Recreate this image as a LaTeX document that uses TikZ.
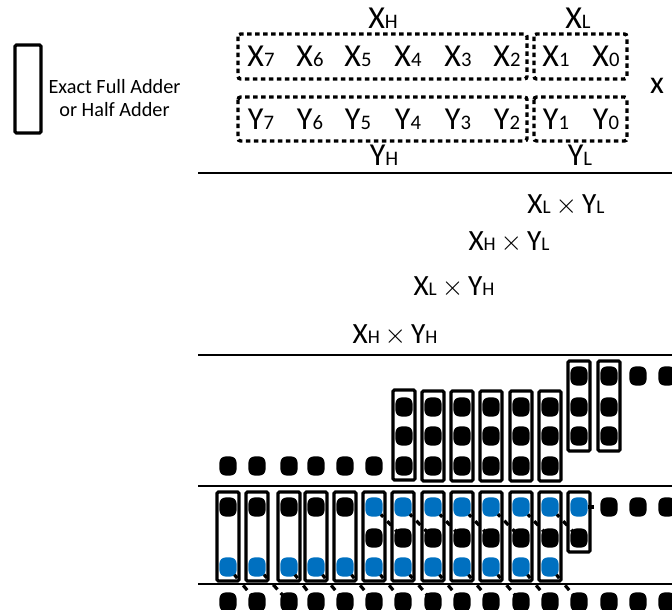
\documentclass[tikz,border=0pt]{standalone}
\usepackage{fontspec}
\setmainfont{Carlito}
\newcommand{\bigtxt}[2]{{\fontsize{24pt}{26pt}\selectfont #1\fontsize{15.5pt}{17pt}\selectfont #2}}
\newcommand{\eqtxt}[4]{{\fontsize{22pt}{24pt}\selectfont #1\fontsize{14.5pt}{16pt}\selectfont #2\fontsize{22pt}{24pt}\selectfont\,$\times$\,#3\fontsize{14.5pt}{16pt}\selectfont #4}}
\tikzset{
  x=0.75pt,y=-0.75pt,
  dotk/.style={rectangle,fill=black,minimum width=12.8pt,minimum height=14.3pt,inner sep=0pt,rounded corners=4.5pt},
  dotb/.style={dotk,fill=dotblue},
  groupbox/.style={draw=black,line width=2.3pt,rounded corners=1pt},
  dashbox/.style={draw=black,line width=2.6pt,dash pattern=on 3.4pt off 2.6pt,rounded corners=2pt},
  rule/.style={draw=black,line width=2.2pt},
  carry/.style={draw=black,line width=2.4pt,dash pattern=on 2.5pt off 4.4pt on 4.4pt off 4.4pt on 6pt off 6pt,shorten <=-2pt,shorten >=-3pt},
  carrybelow/.style={draw=black,line width=2.4pt,dash pattern=on 3.3pt off 7pt on 4.7pt off 3.6pt on 6pt off 6pt,shorten <=-2pt,shorten >=-3pt},
  carryside/.style={draw=black,line width=2.4pt,dash pattern=on 4.5pt off 5pt on 6pt off 6pt},
  lbl/.style={anchor=base,inner sep=0pt,outer sep=0pt},
}
\definecolor{dotblue}{HTML}{0070C0}
\begin{document}
\begin{tikzpicture}
\useasboundingbox (0,0) rectangle (672,610);
\clip (0,0) rectangle (672,610);
% legend
\draw[groupbox] (15,45) rectangle (41,133);
\node[align=center,inner sep=0pt,font=\fontsize{15.2pt}{17.3pt}\selectfont] (legend) at (114.5,98) {Exact Full Adder\\or Half Adder};
% operand groups
\draw[dashbox] (238,34) rectangle (527,79);
\draw[dashbox] (534,34) rectangle (627,79);
\draw[dashbox] (238,97) rectangle (527,141);
\draw[dashbox] (534,97) rectangle (627,141);
\foreach \n/\xx in {7/261,6/310,5/358,4/408,3/458,2/507,1/556,0/606}{
  \node[lbl] (x\n) at (\xx,67) {\bigtxt{X}{\n}};
  \node[lbl] (y\n) at (\xx,130) {\bigtxt{Y}{\n}};
}
\node[lbl] (xh) at (383,29) {\bigtxt{X}{H}};
\node[lbl] (xl) at (578,29) {\bigtxt{X}{L}};
\node[lbl] (yh) at (384,166) {\bigtxt{Y}{H}};
\node[lbl] (yl) at (580,166) {\bigtxt{Y}{L}};
\node[lbl] (times) at (657,94) {\fontsize{24pt}{26pt}\selectfont x};
% rules
\draw[rule] (198,173) -- (672,173);
\draw[rule] (198,355) -- (672,355);
\draw[rule] (198,486) -- (672,486);
\draw[rule] (198,584) -- (672,584);
% partial products
\node[lbl] (ll) at (566,214) {\eqtxt{X}{L}{Y}{L}};
\node[lbl] (hl) at (509,250) {\eqtxt{X}{H}{Y}{L}};
\node[lbl] (lh) at (454,295) {\eqtxt{X}{L}{Y}{H}};
\node[lbl] (hh) at (395,343) {\eqtxt{X}{H}{Y}{H}};
% first reduction row
\foreach \xx in {579,609,638,667} \node[dotk] (a\xx) at (\xx,376) {};
\foreach \xx in {404,433,462,491,521,550,579,609}{
  \node[dotk] (b\xx) at (\xx,407) {};
  \node[dotk] (c\xx) at (\xx,436) {};
}
\foreach \xx in {228,257,289,316,345,374,404,433,462,491,521,550} \node[dotk] (d\xx) at (\xx,466) {};
\draw[groupbox] (393,390) rectangle (415,480);
\foreach \xx in {433,462,491,521,550} \draw[groupbox] (\xx-11,391) rectangle (\xx+11,481);
\foreach \xx in {579,609} \draw[groupbox] (\xx-11,361) rectangle (\xx+11,451);
% second reduction row
\foreach \xx in {228,257,289,316,345,609,638,667} \node[dotk] (e\xx) at (\xx,507) {};
\foreach \xx in {374,403,433,462,491,521,550,579}{
  \node[dotb] (e\xx) at (\xx,507) {};
  \node[dotk] (f\xx) at (\xx,538) {};
}
\foreach \xx in {228,257,289,316,345,374,403,433,462,491,521,550} \node[dotb] (g\xx) at (\xx,567) {};
\foreach \xx in {228,257,289,316,345,374,403,433,462,491,521,550} \draw[groupbox] (\xx-11,492) rectangle (\xx+11,581);
\draw[groupbox] (568,492) rectangle (590,552);
% result row
\foreach \xx in {228,257,289,316,345,374,403,433,462,491,521,550,579,609,638,667} \node[dotk] (h\xx) at (\xx,602) {};
% carries
\foreach \p/\q in {374/403,403/433,433/462,462/491,491/521,521/550,550/579} \draw[carry] (e\p) -- (f\q);
\draw[carryside] (e579) -- (e609);
\foreach \p/\q in {228/257,257/289,289/316,316/345,345/374,374/403,403/433,433/462,462/491,491/521,521/550,550/579} \draw[carrybelow] (g\p) -- (h\q);
\end{tikzpicture}
\end{document}
